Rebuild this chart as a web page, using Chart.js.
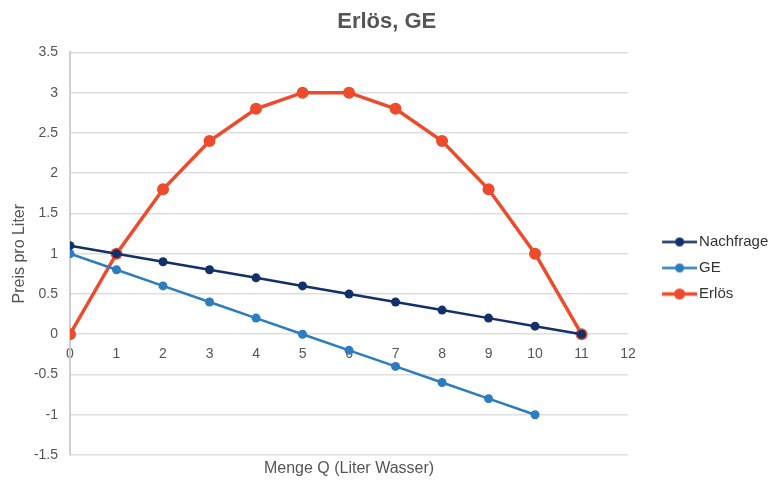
<!DOCTYPE html>
<html>
<head>
<meta charset="utf-8">
<title>Erlös, GE</title>
<script src="https://cdn.jsdelivr.net/npm/chart.js@4/dist/chart.umd.min.js"></script>
<style>
  html, body { margin: 0; padding: 0; background: #ffffff; }
  #wrap { width: 775px; height: 480px; position: relative; }
</style>
</head>
<body>
<div id="wrap"><canvas id="chart" width="775" height="480"></canvas></div>
<script>
// Menge Q (Liter Wasser)
const mengeQ = [0, 1, 2, 3, 4, 5, 6, 7, 8, 9, 10, 11];
// Preis pro Liter (Nachfrage)
const nachfrage = [1.1, 1.0, 0.9, 0.8, 0.7, 0.6, 0.5, 0.4, 0.3, 0.2, 0.1, 0];
// Grenzerlös
const ge = [1.0, 0.8, 0.6, 0.4, 0.2, 0, -0.2, -0.4, -0.6, -0.8, -1.0];
// Erlös
const erloes = [0, 1.0, 1.8, 2.4, 2.8, 3.0, 3.0, 2.8, 2.4, 1.8, 1.0, 0];

const xTicks = [0, 1, 2, 3, 4, 5, 6, 7, 8, 9, 10, 11, 12];
const yTicks = [-1.5, -1, -0.5, 0, 0.5, 1, 1.5, 2, 2.5, 3, 3.5];

const seriesNames = ['Nachfrage', 'GE', 'Erlös'];
const seriesValues = [nachfrage, ge, erloes];
const seriesColors = ['#13306a', '#2c7cc0', '#ee4a2c'];
const pointRadii = [4.5, 4.5, 6];
const lineWidths = [2.5, 2.5, 3.5];

const FONT = "'Liberation Sans', Arial, Helvetica, sans-serif";
const TEXT = '#555555';
const GRID = '#dedede';

function toPoints(values) {
  return values.map((v, i) => ({ x: mengeQ[i], y: v }));
}

// line-with-marker swatch for the legend; wider than the legend box so the
// line runs right up to the label text
function legendSwatch(color, r, lw) {
  const c = document.createElement('canvas');
  const h = Math.ceil(r * 2 + 2);
  const w = 47, x0 = 12, x1 = 47;
  c.width = w; c.height = h;
  const g = c.getContext('2d');
  g.strokeStyle = color; g.lineWidth = lw;
  g.beginPath(); g.moveTo(x0, h / 2); g.lineTo(x1, h / 2); g.stroke();
  g.fillStyle = color;
  g.beginPath(); g.arc((x0 + x1) / 2, h / 2, r, 0, Math.PI * 2); g.fill();
  return c;
}

const datasets = seriesNames.map((name, i) => ({
  label: name,
  data: toPoints(seriesValues[i]),
  borderColor: seriesColors[i],
  backgroundColor: seriesColors[i],
  pointBackgroundColor: seriesColors[i],
  pointBorderColor: seriesColors[i],
  pointRadius: pointRadii[i],
  pointBorderWidth: 0,
  borderWidth: lineWidths[i],
  tension: 0,
  fill: false,
  xAxisID: 'x',
  yAxisID: 'y',
  swatch: legendSwatch(seriesColors[i], Math.min(pointRadii[i], 5.5), lineWidths[i])
}));

new Chart(document.getElementById('chart'), {
  type: 'line',
  data: { datasets },
  options: {
    responsive: false,
    animation: false,
    layout: { padding: { top: 0, right: 1.5, bottom: 0, left: 0 } },
    plugins: {
      title: {
        display: true,
        text: 'Erlös, GE',
        color: TEXT,
        font: { family: FONT, size: 22, weight: 'bold', lineHeight: 1.2 },
        padding: { top: 9, bottom: 17 }
      },
      legend: {
        position: 'right',
        align: 'center',
        title: { display: true, text: ' ', font: { size: 10, lineHeight: 1 }, padding: { top: 8, bottom: 38 } },
        labels: {
          usePointStyle: true,
          pointStyleWidth: 36,
          color: '#333333',
          padding: 11,
          font: { family: FONT, size: 15 },
          generateLabels(chart) {
            return chart.data.datasets.map((ds, i) => ({
              text: ds.label,
              fillStyle: ds.borderColor,
              strokeStyle: ds.borderColor,
              fontColor: '#333333',
              lineWidth: 0,
              pointStyle: ds.swatch,
              hidden: !chart.isDatasetVisible(i),
              datasetIndex: i
            }));
          }
        }
      },
      tooltip: { enabled: false }
    },
    scales: {
      x: {
        type: 'linear',
        position: { y: 0 },
        min: 0,
        max: 12,
        afterBuildTicks(scale) { scale.ticks = xTicks.map(v => ({ value: v })); },
        grid: { display: false },
        border: { display: false },
        ticks: {
          color: TEXT,
          padding: 4,
          maxRotation: 0,
          font: { family: FONT, size: 14 },
          callback: (v) => String(v)
        }
      },
      xTitle: {
        type: 'linear',
        axis: 'x',
        position: 'bottom',
        min: 0,
        max: 12,
        grid: { display: false },
        border: { display: false },
        ticks: { display: false },
        title: {
          display: true,
          text: 'Menge Q (Liter Wasser)',
          color: TEXT,
          font: { family: FONT, size: 16 },
          padding: { top: 0, bottom: 2 }
        },
        afterFit(scale) { scale.height = 25; }
      },
      y: {
        type: 'linear',
        position: 'left',
        min: -1.5,
        max: 3.5,
        afterBuildTicks(scale) { scale.ticks = yTicks.map(v => ({ value: v })); },
        grid: { color: GRID, lineWidth: 1.5, drawTicks: false },
        border: { display: true, color: '#cfcfcf', width: 2 },
        ticks: {
          color: TEXT,
          padding: 12,
          font: { family: FONT, size: 14 },
          callback: (v) => String(v)
        },
        title: {
          display: true,
          text: 'Preis pro Liter',
          color: TEXT,
          font: { family: FONT, size: 16 },
          padding: { top: 10, bottom: 0 }
        },
        afterFit(scale) { scale.width = 70; }
      },
      ySpacer: {
        type: 'linear',
        axis: 'y',
        position: 'right',
        min: -1.5,
        max: 3.5,
        grid: { display: false },
        border: { display: false },
        ticks: { display: false },
        afterFit(scale) { scale.width = 16.5; }
      }
    }
  }
});
</script>
</body>
</html>
